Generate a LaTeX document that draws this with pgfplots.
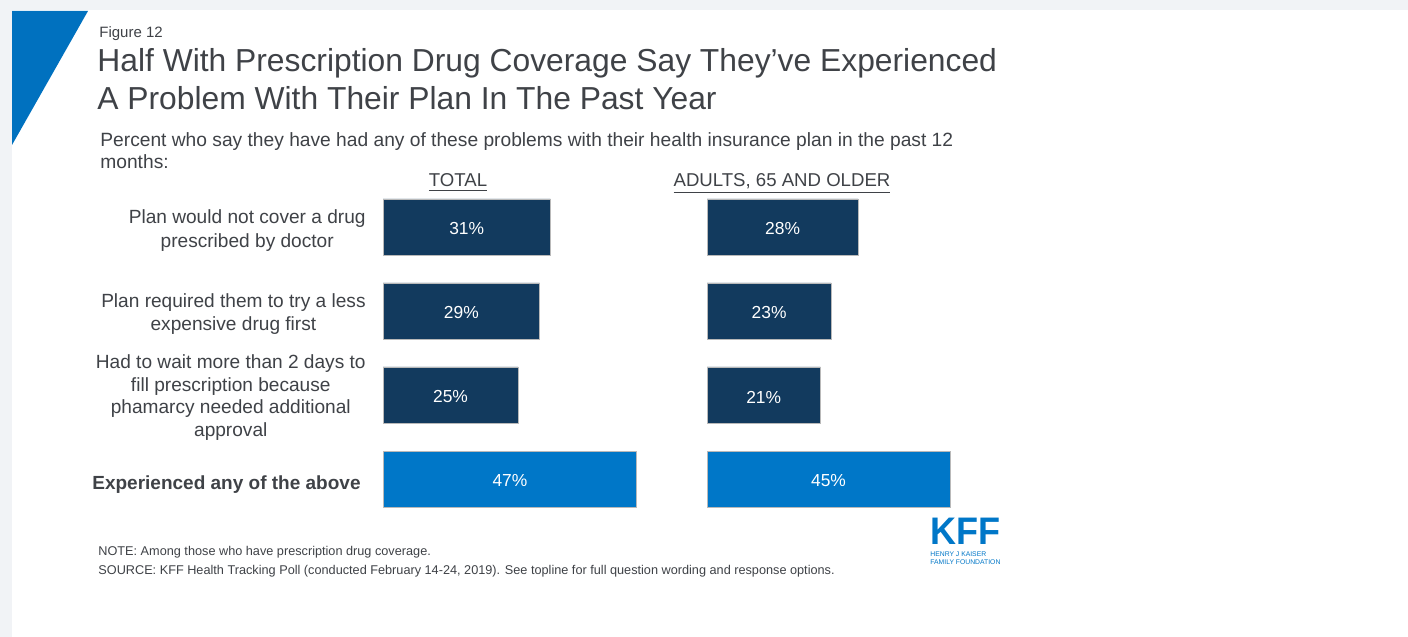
\documentclass[border=0pt]{standalone}
\usepackage{pgfplots}
\pgfplotsset{compat=1.18}
\usepackage{pgfplotstable}
\usepackage{fontspec}
\setmainfont{Liberation Sans}
\definecolor{navy}{HTML}{123A5E}
\definecolor{kblue}{HTML}{0077C8}
\definecolor{tri}{HTML}{0071BF}
\definecolor{txt}{HTML}{3F4247}
\definecolor{bg}{HTML}{F1F3F6}
\newcommand{\fs}[2]{\fontsize{#1bp}{#2bp}\selectfont}

\pgfplotstableread{
row total older
0 31 28
1 29 23
2 25 21
}\dataA
\pgfplotstableread{
row total older
3 47 45
}\dataB

\pgfplotsset{
  panel/.style={
    anchor=north west, scale only axis, width=135bp, height=168bp,
    xmin=0, xmax=50, ymin=-0.5, ymax=3.5, y dir=reverse,
    axis lines=none, clip=false,
    /pgf/number format/assume math mode=true,
  },
  barstyle/.style={xbar, bar width=0.667, bar shift=0pt, draw=gray!55, line width=0.4bp},
  lbl/.style={only marks, mark=none, point meta=explicit,
    nodes near coords={\pgfmathprintnumber{\pgfplotspointmeta}\%},
    every node near coord/.style={anchor=center, yshift=-1bp, text=white, font=\fs{8.7}{10}}},
}

\begin{document}
\begin{tikzpicture}[x=0.5bp,y=0.5bp]
\useasboundingbox (0,0) rectangle (1408,637);
\fill[bg] (0,0) rectangle (1408,637);
\fill[white] (12,0) rectangle (1408,627);
\fill[tri] (12,626) -- (88,626) -- (12,492) -- cycle;

\node[anchor=base west, inner sep=0, text=txt, font=\fs{7.5}{8}] at (99,599) {Figure 12};
\node[anchor=base west, inner sep=0, text=txt, font=\fs{15.9}{18}] at (97,565) {Half With Prescription Drug Coverage Say They’ve Experienced};
\node[anchor=base west, inner sep=0, text=txt, font=\fs{15.9}{18}] at (97,527) {A Problem With Their Plan In The Past Year};
\node[anchor=base west, inner sep=0, text=txt, font=\fs{9.6}{11}] at (100,490) {Percent who say they have had any of these problems with their health insurance plan in the past 12};
\node[anchor=base west, inner sep=0, text=txt, font=\fs{9.6}{11}] at (100,468) {months:};

\node[anchor=base, inner sep=0, text=txt, font=\fs{9.3}{10}] at (458,450) {\underline{TOTAL}};
\node[anchor=base, inner sep=0, text=txt, font=\fs{9.3}{10}] at (782,450) {\underline{ADULTS, 65 AND OLDER}};

\node[anchor=east, inner sep=0, align=center, text=txt, font=\fs{9.55}{12}] at (366,406) {Plan would not cover a drug\\prescribed by doctor};
\node[anchor=east, inner sep=0, align=center, text=txt, font=\fs{9.55}{11.5}] at (366,323) {Plan required them to try a less\\expensive drug first};
\node[anchor=east, inner sep=0, align=center, text=txt, font=\fs{9.55}{11.4}] at (366,239.5) {Had to wait more than 2 days to\\fill prescription because\\phamarcy needed additional\\approval};
\node[anchor=east, inner sep=0, align=center, text=txt, font=\bfseries\fs{9.5}{12}] at (361,152) {Experienced any of the above};

\begin{axis}[panel, at={(191.5bp,226bp)}]
\addplot[barstyle, fill=navy] table[x=total, y=row] {\dataA};
\addplot[barstyle, fill=kblue] table[x=total, y=row] {\dataB};
\addplot[lbl] table[x expr=\thisrow{total}/2, y=row, meta=total] {\dataA};
\addplot[lbl] table[x expr=\thisrow{total}/2, y=row, meta=total] {\dataB};
\end{axis}

\begin{axis}[panel, at={(353.5bp,226bp)}]
\addplot[barstyle, fill=navy] table[x=older, y=row] {\dataA};
\addplot[barstyle, fill=kblue] table[x=older, y=row] {\dataB};
\addplot[lbl] table[x expr=\thisrow{older}/2, y=row, meta=older] {\dataA};
\addplot[lbl] table[x expr=\thisrow{older}/2, y=row, meta=older] {\dataB};
\end{axis}

\node[anchor=base west, inner sep=0, text=txt, font=\fs{6.35}{7}] at (98,81) {NOTE: Among those who have prescription drug coverage.};
\node[anchor=base west, inner sep=0, text=txt, font=\fs{6.35}{7}] at (98,62) {SOURCE: KFF Health Tracking Poll (conducted February 14-24, 2019). See topline for full question wording and response options.};

\node[anchor=base west, inner sep=0, text=kblue, font=\bfseries\fs{19}{20}] at (930,92) {\resizebox{35bp}{13.2bp}{KFF}};
\node[anchor=base west, inner sep=0, text=kblue, font=\fs{3.4}{4.2}] at (930,80.5) {\resizebox{35bp}{!}{\begin{tabular}[t]{@{}l@{}}HENRY J KAISER\\FAMILY FOUNDATION\end{tabular}}};
\end{tikzpicture}
\end{document}
